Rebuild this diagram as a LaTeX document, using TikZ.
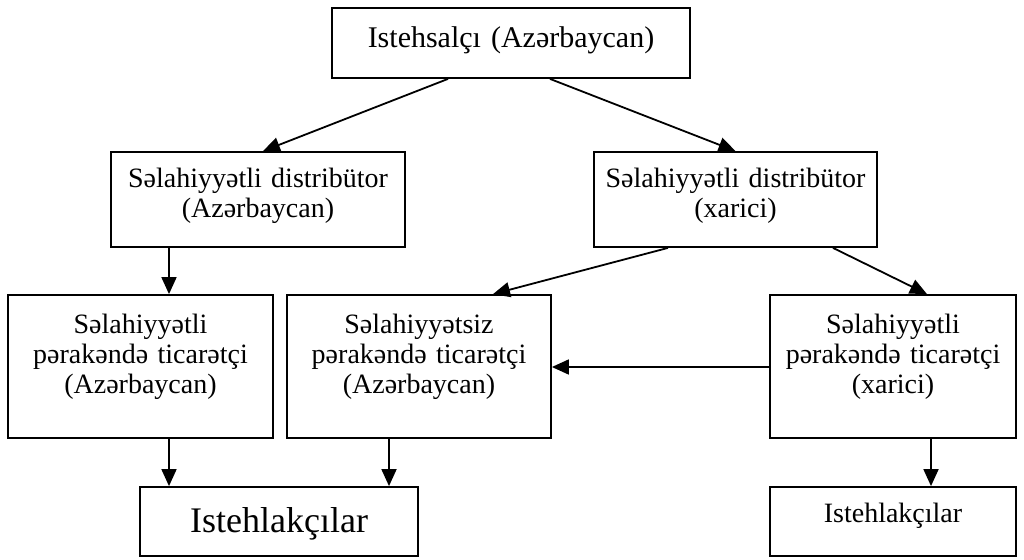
\documentclass[tikz,border=0pt]{standalone}
\usepackage{fontspec}
\setmainfont{Liberation Serif}
\usetikzlibrary{arrows.meta}

\tikzset{
    box/.style={draw,line width=1.8pt,inner sep=0pt,align=center,
                font=\fontsize{28}{30}\selectfont},
    flow/.style={line width=1.8pt,-{Triangle[length=17pt,width=15pt]}}
}

\begin{document}
\begin{tikzpicture}[x=1pt,y=-1pt]
    \useasboundingbox (0,0) rectangle (1024,559);

    % producer
    \node[box,minimum width=358pt,minimum height=70pt,text width=350pt,
          text height=40pt,text depth=30pt,
          font=\fontsize{30}{32}\selectfont] (prod) at (511,43)
          {Istehsalçı (Azərbaycan)};

    % distributors
    \node[box,minimum width=294pt,minimum height=95pt,text width=290pt,
          text height=35pt,text depth=60pt] (distaz) at (258,199.5)
          {Səlahiyyətli distribütor\\(Azərbaycan)};
    \node[box,minimum width=283pt,minimum height=95pt,text width=280pt,
          text height=35pt,text depth=60pt] (distxr) at (735.5,199.5)
          {Səlahiyyətli distribütor\\(xarici)};

    % retailers
    \node[box,minimum width=265pt,minimum height=143pt,text width=260pt,
          text height=38pt,text depth=105pt] (retaz) at (140.5,366.5)
          {Səlahiyyətli\\pərakəndə ticarətçi\\(Azərbaycan)};
    \node[box,minimum width=264pt,minimum height=143pt,text width=260pt,
          text height=38pt,text depth=105pt] (retun) at (419,366.5)
          {Səlahiyyətsiz\\pərakəndə ticarətçi\\(Azərbaycan)};
    \node[box,minimum width=246pt,minimum height=143pt,text width=242pt,
          text height=38pt,text depth=105pt] (retxr) at (893,366.5)
          {Səlahiyyətli\\pərakəndə ticarətçi\\(xarici)};

    % consumers
    \node[box,minimum width=278pt,minimum height=69pt,text width=274pt,
          text height=45pt,text depth=24pt,
          font=\fontsize{36}{38}\selectfont] (consaz) at (279,521.5)
          {Istehlakçılar};
    \node[box,minimum width=246pt,minimum height=69pt,text width=242pt,
          text height=35pt,text depth=34pt] (consxr) at (893,521.5)
          {Istehlakçılar};

    \draw[flow] ([xshift=-63pt]prod.south) -- ([xshift=5pt]distaz.north);
    \draw[flow] ([xshift=39pt]prod.south) -- (distxr.north);

    \draw[flow] ([xshift=-89pt]distaz.south) -- ([xshift=28.5pt]retaz.north);
    \draw[flow] ([xshift=-67.5pt]distxr.south) -- ([xshift=74pt]retun.north);
    \draw[flow] ([xshift=97.5pt]distxr.south) -- ([xshift=34pt]retxr.north);

    \draw[flow] ([yshift=-0.5pt]retxr.west) -- ([yshift=-0.5pt]retxr.west -| retun.east);

    \draw[flow] ([xshift=28.5pt]retaz.south) -- ([xshift=-110pt]consaz.north);
    \draw[flow] ([xshift=-30pt]retun.south) -- ([xshift=110pt]consaz.north);
    \draw[flow] ([xshift=38pt]retxr.south) -- ([xshift=38pt]consxr.north);
\end{tikzpicture}
\end{document}
